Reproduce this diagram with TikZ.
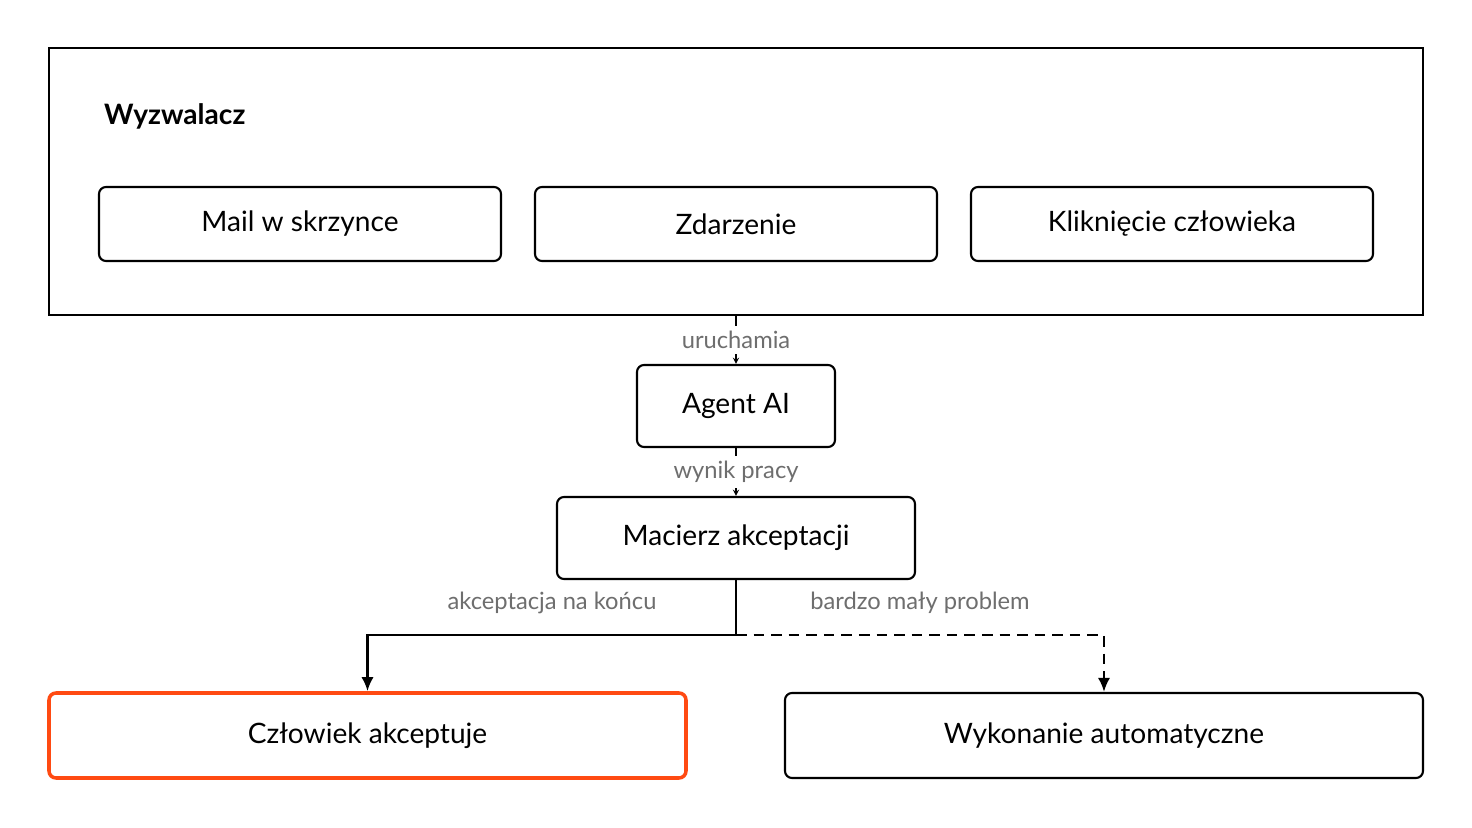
\documentclass[tikz,border=0pt]{standalone}
\usepackage{fontspec}
\setmainfont{Lato}
\usetikzlibrary{positioning,calc,arrows.meta}
\definecolor{accent}{HTML}{FF4A12}
\definecolor{labelgray}{HTML}{6E6E6E}
\begin{document}
\begin{tikzpicture}[
    x=0.02cm, y=-0.02cm,
    box/.style={draw, rounded corners=4pt, line width=1.2pt, inner sep=0pt, font=\fontsize{16}{19}\selectfont},
    lbl/.style={fill=white, text=labelgray, inner sep=3pt, font=\fontsize{13.5}{16}\selectfont},
    flow/.style={line width=1.5pt, -{Latex[length=8pt,width=7pt]}},
    >=stealth
]
    \useasboundingbox (0,0) rectangle (1472,828);
    % Trigger container
    \node[draw, line width=1.2pt, minimum width=1374*0.02cm, minimum height=267*0.02cm, inner sep=0pt] (trigger) at (736,181.5) {};
    \node[anchor=west, font=\fontsize{16}{19}\selectfont\bfseries] (title) at (98,116) {Wyzwalacz};
    \node[box, minimum width=402*0.02cm, minimum height=74*0.02cm] (mail) at (300,224) {Mail w skrzynce};
    \node[box, minimum width=402*0.02cm, minimum height=74*0.02cm] (event) at (736,224) {Zdarzenie};
    \node[box, minimum width=402*0.02cm, minimum height=74*0.02cm] (click) at (1172,224) {Kliknięcie człowieka};

    % Agent and matrix
    \node[box, minimum width=198*0.02cm, minimum height=82*0.02cm] (agent) at (736,406) {Agent AI};
    \node[box, minimum width=358*0.02cm, minimum height=82*0.02cm] (matrix) at (736,538) {Macierz akceptacji};

    % Outcomes
    \node[box, draw=accent, line width=2pt, minimum width=637*0.02cm, minimum height=85*0.02cm] (human) at (367.5,735.5) {Człowiek akceptuje};
    \node[box, minimum width=638*0.02cm, minimum height=85*0.02cm] (auto) at (1104,735.5) {Wykonanie automatyczne};

    % Connections
    \draw[->, line width=0.6pt] (trigger.south) -- (agent.north) node[midway, lbl, minimum width=160*0.02cm] {uruchamia};
    \draw[->, line width=0.6pt] (agent.south) -- (matrix.north) node[midway, lbl, minimum width=150*0.02cm] {wynik pracy};
    \coordinate (split) at (736,635);
    \draw[line width=1.5pt] (matrix.south) -- (split);
    \draw[flow] (split) -| (human.north);
    \draw[flow, dashed, dash pattern=on 6pt off 4pt] (split) -| (auto.north);
    \node[lbl] (acceptlbl) at (552,603) {akceptacja na końcu};
    \node[lbl] (smalllbl) at (920,603) {bardzo mały problem};
\end{tikzpicture}
\end{document}
